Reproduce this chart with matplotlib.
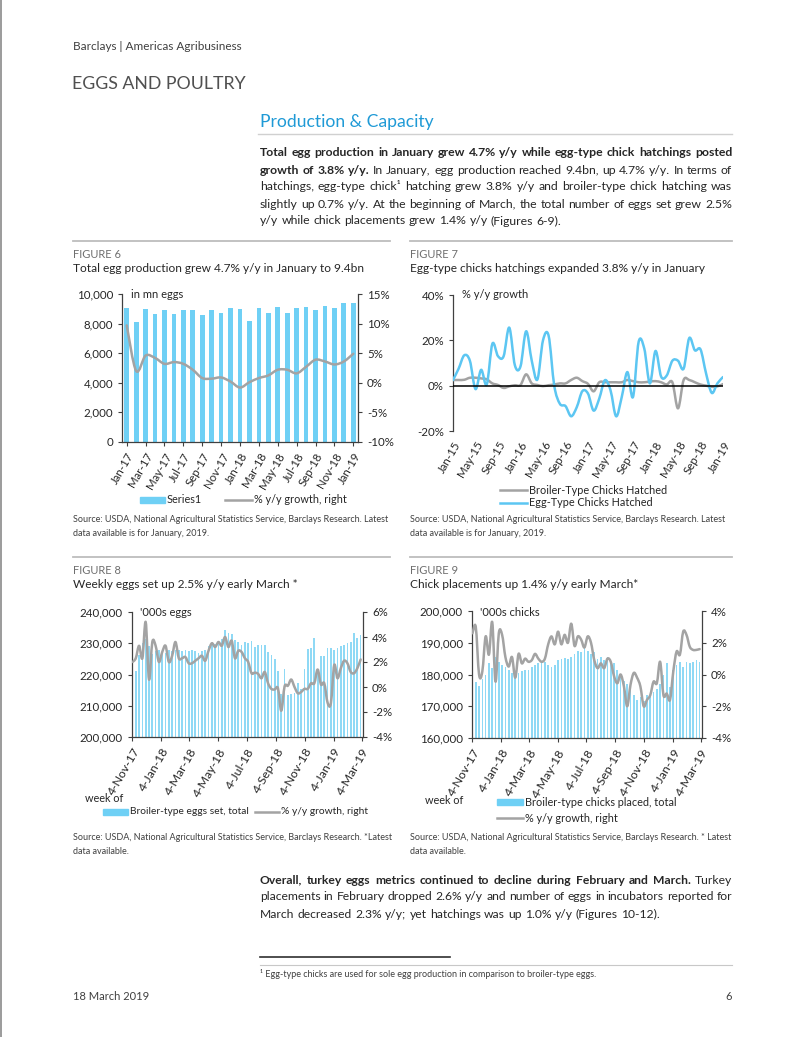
import numpy as np
import pandas as pd
import matplotlib
matplotlib.use('Agg')
import matplotlib.pyplot as plt
from matplotlib.path import Path
from matplotlib.patches import PathPatch, Rectangle
from matplotlib.lines import Line2D

plt.rcParams['font.family'] = ['Lato', 'DejaVu Sans']

# ---------------- data ----------------
# Figure 6: monthly egg production (mn eggs) and y/y growth (%)
fig6_months = pd.date_range('2017-01-01', periods=25, freq='MS')
fig6_eggs = [9050, 8100, 9000, 8650, 8900, 8650, 8900, 8900, 8550, 8900, 8750, 9050,
             9000, 8150, 9050, 8750, 9100, 8750, 9050, 9100, 8900, 9200, 9050, 9400, 9400]
fig6_yoy = [9.7, 2.0, 4.6, 4.2, 3.2, 3.5, 3.2, 2.2, 0.8, 0.7, 0.9, 0.2,
            -0.8, 0.1, 0.8, 1.25, 2.2, 2.2, 1.6, 2.7, 3.9, 3.6, 3.1, 3.6, 4.9]

# Figure 7: chick hatchings y/y growth (%)
fig7_months = pd.date_range('2015-01-01', periods=49, freq='MS')
fig7_broiler = [2.5, 2.5, 2.6, 3.5, 3.5, 3.2, 2.8, 1.0, 0.3, -1.0, -0.3, 0.2,
                0.3, 5.0, 1.0, 0.3, -0.2, 0.2, 0.5, 1.0, 1.0, 2.5, 3.5, 2.0,
                0.8, -2.5, 1.5, 1.5, 1.5, 1.5, 1.5, 2.5, 2.0, 1.5, 1.5, 1.8,
                2.0, 1.5, 0.5, 1.5, -10.0, 2.5, 2.5, 1.5, 0.5, 0.0, -0.5, -0.3, 0.7]
fig7_egg = [2.5, 7.5, 13.4, 11.0, -1.5, 7.0, 0.5, 18.5, 13.0, 13.0, 25.6, 9.0,
            8.5, 24.0, 11.0, 2.7, 20.0, 22.0, 0.0, -8.0, -9.0, -13.5, -9.5, -2.4,
            -3.5, -11.0, -5.7, 2.4, -2.0, -13.5, -5.0, 6.0, -5.0, 19.3, 16.4, 1.0,
            15.3, 4.0, 4.5, 11.0, 11.0, 7.5, 21.0, 15.6, 16.0, 5.3, -3.2, 1.0, 3.8]

# Figure 8: weekly broiler-type eggs set ('000s) and y/y growth (%)
fig8_weeks = pd.date_range('2017-11-04', periods=70, freq='7D')
fig8_eggs_set = [215400, 221000, 226200, 230000, 231300, 229000, 226500, 227500, 228000, 226500,
                 227000, 228000, 227500, 227800, 227800, 227500, 227800, 227600, 227800, 227500,
                 227000, 227600, 228000, 229000, 229500, 229800, 230000, 231500, 234200, 233300,
                 233000, 231200, 230500, 229500, 230500, 230000, 230700, 228800, 229300, 229300,
                 229500, 227200, 226400, 225000, 221100, 213800, 221700, 213500, 213800, 214000,
                 217300, 215500, 221800, 228300, 228500, 231700, 221800, 225800, 225800, 228500,
                 228500, 228000, 228500, 229000, 229500, 230000, 230500, 233300, 231700, 232500]
fig8_yoy = [2.0, 2.3, 3.3, 2.3, 5.2, 0.6, 3.6, 3.3, 2.0, 2.8, 3.3, 2.0, 2.5, 3.6, 2.3, 2.3,
            2.4, 1.9, 1.9, 2.1, 2.3, 2.5, 2.1, 2.9, 3.5, 3.2, 3.6, 3.3, 4.0, 3.2, 3.7, 2.3,
            2.9, 2.8, 2.3, 2.0, 1.1, 1.15, 1.05, 0.7, 1.2, 0.3, -0.15, -0.2, -0.1, -1.9, 0.05,
            0.1, 0.6, 0.0, -0.5, -0.4, -0.15, -0.15, 0.3, 0.3, 1.4, 0.2, 0.3, -1.25, -1.3, 1.75,
            0.7, 1.5, 2.1, 1.9, 1.2, 1.1, 1.5, 2.2]

# Figure 9: weekly broiler-type chicks placed ('000s) and y/y growth (%)
fig9_weeks = pd.date_range('2017-11-04', periods=70, freq='7D')
fig9_chicks = [175800, 177500, 176500, 178500, 180000, 183500, 182000, 185500, 184000, 183000,
               182500, 181500, 180500, 179500, 180500, 181000, 181300, 181500, 182500, 183000,
               183500, 183500, 184000, 183000, 182500, 183000, 184500, 185000, 185200, 185000,
               185500, 186500, 187500, 187000, 189000, 187500, 186500, 187000, 185000, 185500,
               184500, 185500, 184000, 183500, 181500, 180000, 178000, 177000, 175500, 173500,
               172000, 173000, 171500, 173500, 173000, 174500, 175500, 177000, 180000, 183500,
               176000, 181500, 183000, 184000, 182500, 184000, 183500, 184000, 184500, 184000]
fig9_yoy = [2.6, 3.0, 0.0, 0.2, 2.4, 1.25, 3.3, -0.45, 2.6, 2.5, 1.1, 0.5, 1.1, -0.2, 1.3,
            0.7, 1.0, 0.8, 0.9, 1.3, 1.0, 0.8, 1.0, 1.9, 2.4, 1.9, 2.7, 1.9, 2.5, 2.0, 3.2,
            1.8, 2.4, 2.2, 1.7, 2.4, 2.0, 0.9, 0.4, 0.7, 0.4, 1.0, 0.8, -0.1, -0.55, 0.0,
            -0.75, -2.0, -0.65, 0.1, -0.2, -0.75, -2.0, -1.6, -1.3, -0.45, -0.55, 0.8, -1.3,
            -1.2, -1.6, 0.2, 1.45, 1.25, 2.7, 2.5, 1.75, 1.55, 1.55, 1.6]

week_ticks = ['4-Nov-17', '4-Jan-18', '4-Mar-18', '4-May-18', '4-Jul-18', '4-Sep-18',
              '4-Nov-18', '4-Jan-19', '4-Mar-19']

# ---------------- style ----------------
W, H = 802, 1037
TXT = '#262626'
GREYTXT = '#6f6f6f'
AX = '#404040'
BAR = '#6fd0f5'
BAR_W = '#8fd9f5'
BLUE = '#5cc6f2'
GREY = '#a3a3a3'


def fx(x):
    return x / W


def fy(y):
    return 1 - y / H


def axes_px(x0, y0, x1, y1):
    return fig.add_axes([fx(x0), fy(y1), (x1 - x0) / W, (y1 - y0) / H])


def smooth(ax, x, y, color, lw):
    # Excel-style smoothed line through the points (Bezier segments)
    x = np.asarray(x, float)
    y = np.asarray(y, float)
    n = len(x)
    verts = [(x[0], y[0])]
    codes = [Path.MOVETO]
    for i in range(n - 1):
        a, b = max(i - 1, 0), min(i + 2, n - 1)
        c1 = (x[i] + (x[i + 1] - x[a]) / 6, y[i] + (y[i + 1] - y[a]) / 6)
        c2 = (x[i + 1] - (x[b] - x[i]) / 6, y[i + 1] - (y[b] - y[i]) / 6)
        verts += [c1, c2, (x[i + 1], y[i + 1])]
        codes += [Path.CURVE4] * 3
    ax.add_patch(PathPatch(Path(verts, codes), fill=False, edgecolor=color, lw=lw,
                           capstyle='round', joinstyle='round', zorder=5))


def style_axis(ax, left=True, right=False, bottom=True, size=8.3):
    ax.patch.set_alpha(0)
    for s in ['top', 'left', 'right', 'bottom']:
        ax.spines[s].set_visible(False)
    if left:
        ax.spines['left'].set_visible(True)
    if right:
        ax.spines['right'].set_visible(True)
    if bottom:
        ax.spines['bottom'].set_visible(True)
    for s in ax.spines.values():
        s.set_color(AX)
        s.set_linewidth(0.9)
    ax.tick_params(colors=AX, labelcolor=TXT, labelsize=size, length=3, width=0.8)


def legend_bar(x0, x1, y, label, size=7.8):
    fig.add_artist(Rectangle((fx(x0), fy(y + 3)), (x1 - x0) / W, 6 / H, color=BAR,
                             transform=fig.transFigure))
    t = fig.text(fx(x1 + 2), fy(y), label, fontsize=size, color=TXT, va='center')
    return x1 + 2 + t.get_window_extent(renderer).width


def legend_line(x0, x1, y, label, color, size=7.8):
    fig.add_artist(Line2D([fx(x0), fx(x1)], [fy(y), fy(y)], color=color, lw=1.8,
                          transform=fig.transFigure))
    fig.text(fx(x1 + 2), fy(y), label, fontsize=size, color=TXT, va='center')


fig = plt.figure(figsize=(8.02, 10.37), dpi=100)
fig.patch.set_facecolor('white')
renderer = fig.canvas.get_renderer()


def justify(lines, y0, dy, x0, x1, size):
    for k, segs in enumerate(lines):
        y = y0 + k * dy
        words = []
        for text, bold in segs:
            for w in text.split():
                words.append((w, bold))
        objs = [fig.text(0, fy(y), w, fontsize=size, color=TXT, va='center',
                         weight='bold' if b else 'normal') for w, b in words]
        widths = [o.get_window_extent(renderer).width for o in objs]
        if k == len(lines) - 1:
            gap = size * 0.27 * 100 / 72
        else:
            gap = (x1 - x0 - sum(widths)) / (len(objs) - 1)
        x = x0
        for o, w in zip(objs, widths):
            o.set_x(fx(x))
            x += w + gap


# ---------------- page furniture ----------------
fig.add_artist(Line2D([fx(1), fx(1)], [0, 1], color='#8a8a8a', lw=1.2, transform=fig.transFigure))
fig.text(fx(73), fy(46), 'Barclays | Americas Agribusiness', fontsize=8.5, color='#404040', va='center')
fig.text(fx(72), fy(84), 'EGGS AND POULTRY', fontsize=12.8, color='#505050', va='center')
fig.text(fx(260), fy(122), 'Production & Capacity', fontsize=12.6, color='#1f9ad6', va='center')
fig.add_artist(Line2D([fx(258), fx(732)], [fy(134), fy(134)], color='#d0d0d0', lw=1,
                      transform=fig.transFigure))

para1 = [
    [('Total egg production in January grew 4.7% y/y while egg-type chick hatchings posted', True)],
    [('growth of 3.8% y/y.', True), ('In January, egg production reached 9.4bn, up 4.7% y/y. In terms of', False)],
    [('hatchings, egg-type chick\u00b9 hatching grew 3.8% y/y and broiler-type chick hatching was', False)],
    [('slightly up 0.7% y/y. At the beginning of March, the total number of eggs set grew 2.5%', False)],
    [('y/y while chick placements grew 1.4% y/y (Figures 6-9).', False)],
]
justify(para1, 153, 17, 260, 732, 8.8)

para2 = [
    [('Overall, turkey eggs metrics continued to decline during February and March.', True), ('Turkey', False)],
    [('placements in February dropped 2.6% y/y and number of eggs in incubators reported for', False)],
    [('March decreased 2.3% y/y; yet hatchings was up 1.0% y/y (Figures 10-12).', False)],
]
justify(para2, 880, 17, 260, 732, 8.7)

for (x0, x1) in [(73, 390), (410, 732)]:
    for y in [241, 557]:
        fig.add_artist(Line2D([fx(x0), fx(x1)], [fy(y), fy(y)], color='#bdbdbd', lw=1.3,
                              transform=fig.transFigure))

heads = [(73, 254, 'FIGURE 6', 'Total egg production grew 4.7% y/y in January to 9.4bn'),
         (410, 254, 'FIGURE 7', 'Egg-type chicks hatchings expanded 3.8% y/y in January'),
         (73, 570, 'FIGURE 8', 'Weekly eggs set up 2.5% y/y early March *'),
         (410, 570, 'FIGURE 9', 'Chick placements up 1.4% y/y early March*')]
for x, y, f, t in heads:
    fig.text(fx(x), fy(y), f, fontsize=8, color=GREYTXT, va='center')
    fig.text(fx(x), fy(y + 15), t, fontsize=8.6, color=TXT, va='center')

srcs = [(73, 519, ['Source: USDA, National Agricultural Statistics Service, Barclays Research. Latest',
                   'data available is for January, 2019.']),
        (410, 519, ['Source: USDA, National Agricultural Statistics Service, Barclays Research. Latest',
                    'data available is for January, 2019.']),
        (73, 838, ['Source: USDA, National Agricultural Statistics Service, Barclays Research. *Latest',
                   'data available.']),
        (410, 838, ['Source: USDA, National Agricultural Statistics Service, Barclays Research. * Latest',
                    'data available.'])]
for x, y, ls in srcs:
    for k, l in enumerate(ls):
        fig.text(fx(x), fy(y + 14 * k), l, fontsize=6.5, color='#404040', va='center')

fig.add_artist(Line2D([fx(260), fx(450)], [fy(957), fy(957)], color='#303030', lw=1.2,
                      transform=fig.transFigure))
fig.add_artist(Line2D([fx(260), fx(732)], [fy(965), fy(965)], color='#c8c8c8', lw=0.8,
                      transform=fig.transFigure))
fig.text(fx(260), fy(974), '\u00b9 Egg-type chicks are used for sole egg production in comparison to broiler-type eggs.',
         fontsize=6.5, color='#404040', va='center')
fig.text(fx(73), fy(996), '18 March 2019', fontsize=8, color='#404040', va='center')
fig.text(fx(732), fy(996), '6', fontsize=8, color='#404040', va='center', ha='right')

# ---------------- Figure 6 ----------------
ax = axes_px(122, 294, 358, 442)
pos6 = np.arange(len(fig6_eggs))
ax.bar(pos6, fig6_eggs, width=0.5, color=BAR)
ax.set_xlim(-0.5, len(pos6) - 0.5)
ax.set_ylim(0, 10000)
ax.set_yticks(range(0, 10001, 2000))
ax.set_yticklabels([f'{v:,}' for v in range(0, 10001, 2000)])
ax.set_xticks(pos6[::2])
ax.set_xticklabels([m.strftime('%b-%y') for m in fig6_months[::2]], rotation=60,
                   ha='right', rotation_mode='anchor')
style_axis(ax)
ax2 = ax.twinx()
ax2.set_ylim(-10, 15)
ax2.set_yticks(range(-10, 16, 5))
ax2.set_yticklabels([f'{v}%' for v in range(-10, 16, 5)])
style_axis(ax2, left=False, right=True, bottom=False)
smooth(ax2, pos6, fig6_yoy, GREY, 1.8)
fig.text(fx(131), fy(295), 'in mn eggs', fontsize=8, color=TXT, va='center')
legend_bar(140, 165, 500, 'Series1')
legend_line(225, 252, 500, '% y/y growth, right', GREY)

# ---------------- Figure 7 ----------------
ax = axes_px(453, 295, 723, 431)
pos7 = np.arange(len(fig7_egg))
ax.set_xlim(0, len(pos7) - 1)
ax.set_ylim(-20, 40)
ax.set_yticks([-20, 0, 20, 40])
ax.set_yticklabels(['-20%', '0%', '20%', '40%'])
ax.set_xticks(pos7[::4])
ax.set_xticklabels([m.strftime('%b-%y') for m in fig7_months[::4]], rotation=60,
                   ha='right', rotation_mode='anchor')
style_axis(ax, bottom=False)
ax.tick_params(axis='x', length=0, pad=6)
ax.axhline(0, color='black', lw=1.1, zorder=6)
smooth(ax, pos7, fig7_broiler, GREY, 1.8)
smooth(ax, pos7, fig7_egg, BLUE, 1.8)
fig.text(fx(462), fy(295), '% y/y growth', fontsize=8, color=TXT, va='center')
legend_line(500, 527, 490, 'Broiler-Type Chicks Hatched', GREY)
legend_line(500, 527, 503, 'Egg-Type Chicks Hatched', BLUE)


# ---------------- Figures 8 and 9 ----------------
def weekly(box, weeks, bars, yoy, ylo, yhi, ystep, rlo, rhi, rstep, unit):
    ax = axes_px(*box)
    ax.bar(weeks, bars, width=3.6, color=BAR_W)
    ax.set_xlim(weeks[0] - pd.Timedelta(days=1), pd.Timestamp('2019-03-07'))
    ax.set_ylim(ylo, yhi)
    ticks = list(range(ylo, yhi + 1, ystep))
    ax.set_yticks(ticks)
    ax.set_yticklabels([f'{v:,}' for v in ticks])
    ax.set_xticks(pd.to_datetime(week_ticks, format='%d-%b-%y'))
    ax.set_xticklabels(week_ticks, rotation=60, ha='right', rotation_mode='anchor')
    style_axis(ax)
    ax.tick_params(axis='x', labelsize=8.8)
    ax2 = ax.twinx()
    ax2.set_ylim(rlo, rhi)
    rt = list(range(rlo, rhi + 1, rstep))
    ax2.set_yticks(rt)
    ax2.set_yticklabels([f'{v}%' for v in rt])
    style_axis(ax2, left=False, right=True, bottom=False)
    smooth(ax2, matplotlib.dates.date2num(weeks), yoy, GREY, 1.8)
    fig.text(fx(box[0] + 8), fy(box[1] + 1), unit, fontsize=8, color=TXT, va='center')


weekly((132, 612, 363, 737), fig8_weeks, fig8_eggs_set, fig8_yoy,
       200000, 240000, 10000, -4, 6, 2, "'000s eggs")
fig.text(fx(85), fy(798), 'week of', fontsize=7.8, color=TXT, va='center')
end = legend_bar(103, 128, 812, 'Broiler-type eggs set, total', size=7.4)
legend_line(end + 6, end + 30, 812, '% y/y growth, right', GREY, size=7.4)

weekly((472, 611, 702, 738), fig9_weeks, fig9_chicks, fig9_yoy,
       160000, 200000, 10000, -4, 4, 2, "'000s chicks")
fig.text(fx(425), fy(801), 'week of', fontsize=7.8, color=TXT, va='center')
legend_bar(497, 523, 802, 'Broiler-type chicks placed, total')
legend_line(497, 523, 818, '% y/y growth, right', GREY)

fig.savefig('out.png', dpi=100, facecolor='white')
